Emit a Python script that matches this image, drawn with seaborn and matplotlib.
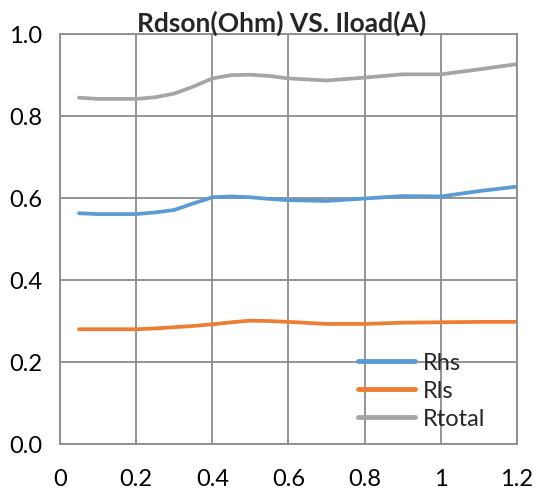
import seaborn as sns
import pandas as pd
from matplotlib import pyplot as plt

# valores
iload = [0.05, 0.1, 0.2, 0.25, 0.3, 0.35, 0.4, 0.45, 0.5, 0.55, 0.6, 0.7, 0.8, 0.9, 1.0, 1.1, 1.2]
rhs = [0.563, 0.561, 0.561, 0.565, 0.571, 0.587, 0.602, 0.604, 0.602, 0.598, 0.595, 0.593, 0.599, 0.605, 0.604, 0.617, 0.628]
rls = [0.280, 0.280, 0.280, 0.282, 0.285, 0.288, 0.292, 0.297, 0.301, 0.300, 0.298, 0.293, 0.293, 0.296, 0.297, 0.298, 0.298]
rtotal = [0.845, 0.842, 0.842, 0.846, 0.855, 0.872, 0.892, 0.900, 0.901, 0.898, 0.892, 0.887, 0.894, 0.902, 0.902, 0.914, 0.927]

series = ['Rhs', 'Rls', 'Rtotal']
cores = ['#5B9BD5', '#ED7D31', '#A5A5A5']
x_ticks = [0, 0.2, 0.4, 0.6, 0.8, 1.0, 1.2]
x_labels = ['0', '0.2', '0.4', '0.6', '0.8', '1', '1.2']
y_ticks = [0.0, 0.2, 0.4, 0.6, 0.8, 1.0]
y_labels = ['0.0', '0.2', '0.4', '0.6', '0.8', '1.0']

df = pd.DataFrame({
    'Iload': iload * 3,
    'R': rhs + rls + rtotal,
    'Serie': [s for s in series for _ in iload],
})

sns.set_theme(style="white")
plt.rcParams['font.family'] = ['Lato', 'DejaVu Sans']

fig = plt.figure(figsize=(5.37, 4.95), dpi=100)
ax = fig.add_axes([0.1117, 0.103, 0.851, 0.828])

sns.lineplot(data=df, x='Iload', y='R', hue='Serie', palette=cores,
             linewidth=2.7, ax=ax, sort=False)

ax.set_xlim(0, 1.2)
ax.set_ylim(0, 1.0)
ax.set_xticks(x_ticks)
ax.set_xticklabels(x_labels)
ax.set_yticks(y_ticks)
ax.set_yticklabels(y_labels)
ax.tick_params(axis='both', length=0, labelsize=17, colors='black')
ax.tick_params(axis='y', pad=13)
ax.tick_params(axis='x', pad=18)
ax.grid(True, color='#8c8c8c', linewidth=1.3)
for s in ax.spines.values():
    s.set_color('#8c8c8c')
    s.set_linewidth(1.3)
ax.set_xlabel('')
ax.set_ylabel('')

ax.set_title('Rdson(Ohm) VS. Iload(A)', fontsize=19, fontweight='bold', pad=2, x=0.485)

leg = ax.legend(loc='center left', bbox_to_anchor=(0.652, 0.129), frameon=False,
                fontsize=17, handlelength=2.4, handletextpad=0.35,
                labelspacing=0.3, borderpad=0, borderaxespad=0)
for h in leg.get_lines():
    h.set_linewidth(3.5)

fig.savefig('out.png', dpi=100)
